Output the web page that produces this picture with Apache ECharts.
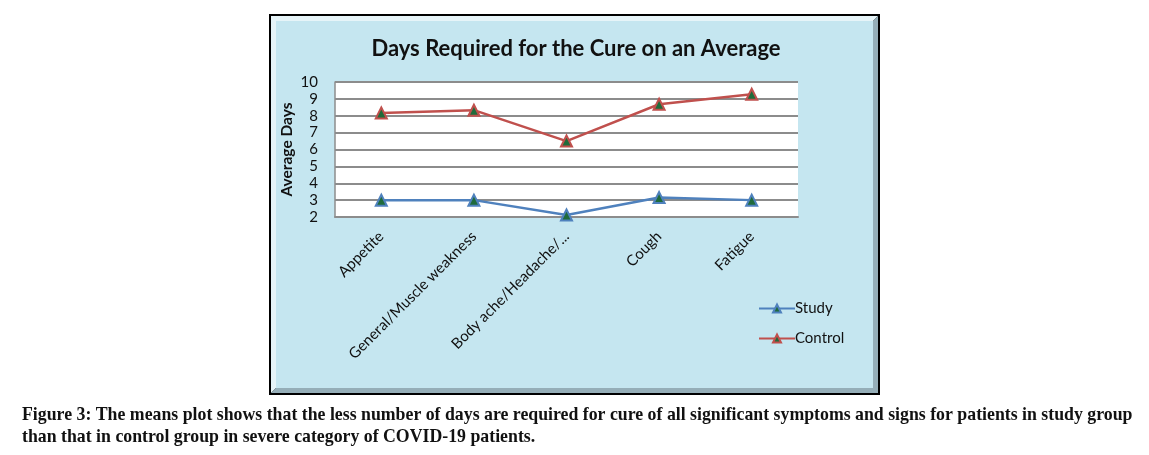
<!DOCTYPE html>
<html>
<head>
<meta charset="utf-8">
<script src="https://cdn.jsdelivr.net/npm/echarts@6/dist/echarts.min.js"></script>
<style>
html,body{margin:0;padding:0;background:#fff;}
#c{width:1149px;height:455px;}
</style>
</head>
<body>
<div id="c"></div>
<script>
const categories = ['Appetite', 'General/Muscle weakness', 'Body ache/Headache/...', 'Cough', 'Fatigue'];
const studyValues = [3.0, 3.0, 2.12, 3.15, 3.0];
const controlValues = [8.17, 8.33, 6.5, 8.68, 9.27];
const yTicks = [2, 3, 4, 5, 6, 7, 8, 9, 10];
const titleText = 'Days Required for the Cure on an Average';
const yAxisTitle = 'Average Days';
const captionLine1 = 'Figure 3: The means plot shows that the less number of days are required for cure of all significant symptoms and signs for patients in study group';
const captionLine2 = 'than that in control group in severe category of COVID-19 patients.';

const chart = echarts.init(document.getElementById('c'), null, {renderer: 'canvas'});
const uiFont = 'Lato, "Open Sans", sans-serif';
const capFont = 'bold 17.8px "Liberation Serif", "DejaVu Serif", serif';
const markerFill = '#1f6b3b';

const option = {
  animation: false,
  backgroundColor: '#ffffff',
  graphic: [
    {type: 'rect', shape: {x: 269, y: 14, width: 611, height: 381}, style: {fill: '#000'}, z: -10},
    {type: 'polygon', shape: {points: [[271,16],[878,16],[873,21],[276,21],[276,388],[271,393]]}, style: {fill: '#e6f4f8'}, z: -8},
    {type: 'polygon', shape: {points: [[878,16],[878,393],[271,393],[276,388],[873,388],[873,21]]}, style: {fill: '#95aeb8'}, z: -8},
    {type: 'rect', shape: {x: 276, y: 21, width: 597, height: 367}, style: {fill: '#c5e6f0'}, z: -7},
    {type: 'rect', shape: {x: 335, y: 82, width: 463, height: 135}, style: {fill: '#ffffff'}, z: -6},
    {type: 'text', left: 22, top: 406, style: {text: captionLine1, font: capFont, fill: '#111'}},
    {type: 'text', left: 22, top: 428, style: {text: captionLine2, font: capFont, fill: '#111'}}
  ],
  title: {
    text: titleText,
    left: 571,
    textAlign: 'center',
    top: 33,
    textStyle: {fontFamily: uiFont, fontWeight: 'bold', fontSize: 22, color: '#111'}
  },
  legend: {
    orient: 'vertical',
    left: 753,
    top: 296,
    itemWidth: 36,
    itemHeight: 10,
    itemGap: 15,
    textStyle: {fontFamily: uiFont, fontSize: 15, color: '#111', padding: [0,0,0,-5]},
    data: ['Study', 'Control']
  },
  grid: {left: 335, right: 351, top: 82, bottom: 238, containLabel: false},
  xAxis: {
    type: 'category',
    data: categories,
    boundaryGap: true,
    axisLine: {show: true, lineStyle: {color: '#8c8c8c', width: 2}},
    axisTick: {show: false},
    axisLabel: {rotate: 45, fontFamily: uiFont, fontSize: 15, color: '#111', margin: 17, interval: 0}
  },
  yAxis: {
    type: 'value',
    min: 2,
    max: 10,
    interval: 1,
    name: yAxisTitle,
    nameLocation: 'middle',
    nameGap: 40,
    nameTextStyle: {fontFamily: uiFont, fontWeight: 'bold', fontSize: 15.5, color: '#111'},
    axisLine: {show: true, lineStyle: {color: '#8c8c8c', width: 1.5}},
    axisTick: {show: false},
    axisLabel: {fontFamily: uiFont, fontSize: 15, color: '#111', margin: 17,
      formatter: v => yTicks.includes(v) ? String(v) : ''},
    splitLine: {show: true, lineStyle: {color: '#8c8c8c', width: 2}}
  },
  series: [
    {
      name: 'Study', type: 'line', data: studyValues,
      symbol: 'triangle', symbolSize: 11,
      lineStyle: {color: '#4f81bd', width: 2.5},
      itemStyle: {color: markerFill, borderColor: '#4f81bd', borderWidth: 2}
    },
    {
      name: 'Control', type: 'line', data: controlValues,
      symbol: 'triangle', symbolSize: 11,
      lineStyle: {color: '#c0504d', width: 2.5},
      itemStyle: {color: markerFill, borderColor: '#c0504d', borderWidth: 2}
    }
  ]
};
chart.setOption(option);
</script>
</body>
</html>
